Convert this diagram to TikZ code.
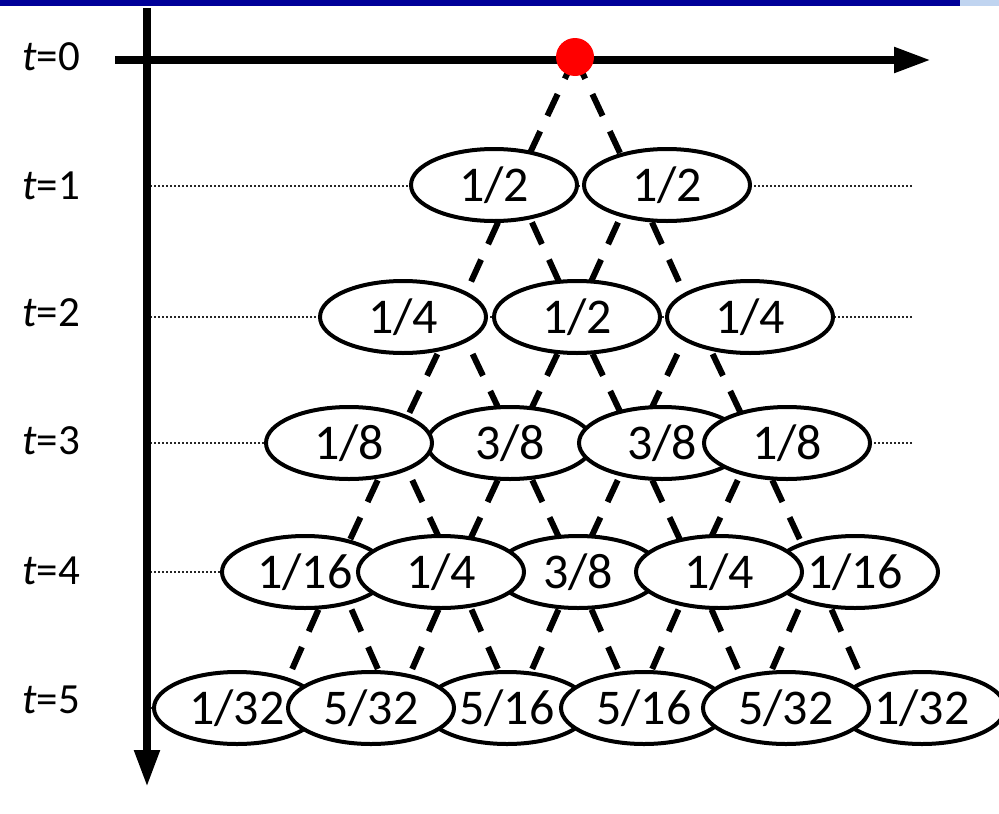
\documentclass[tikz,border=0pt]{standalone}
\usepackage{fontspec}
\setmainfont{Carlito}
\usetikzlibrary{arrows.meta,shapes.geometric}
\definecolor{barblue}{RGB}{0,0,153}
\definecolor{barlight}{RGB}{192,212,240}
\begin{document}
\begin{tikzpicture}[x=1pt,y=-1pt,
  prob/.style={ellipse, draw=black, fill=white, line width=4pt,
    minimum width=166pt, minimum height=72pt, inner sep=0pt,
    font=\fontsize{50}{60}\selectfont, text height=32pt, text depth=0pt},
  tlabel/.style={inner sep=0pt, font=\fontsize{43}{52}\selectfont,
    text height=27pt, text depth=0pt},
  dashline/.style={line width=6pt, dash pattern=on 24pt off 17pt},
  dotline/.style={line width=1.5pt, dash pattern=on 1.5pt off 2.5pt, black!85},
  axisline/.style={line width=8pt, -{Triangle[length=37pt,width=24pt]}},
  reddot/.style={circle, fill=red, minimum size=38pt, inner sep=0pt}
]
\useasboundingbox (0,0) rectangle (999,814);
% top bar
\fill[barblue] (0,0) rectangle (960,6);
\fill[barlight] (960,0) rectangle (999,6);

% dotted level lines
\foreach \n/\y in {1/186,2/317,3/443,4/572,5/708}{
  \coordinate (dl\n) at (150,\y);
  \coordinate (dr\n) at (912,\y);
  \draw[dotline] (dl\n) -- (dr\n);
}

% axes
\coordinate (hx0) at (115,60);
\coordinate (hx1) at (931,60);
\coordinate (vy0) at (147,8);
\coordinate (vy1) at (147,787);
\draw[axisline] (hx0) -- (hx1);
\draw[axisline] (vy0) -- (vy1);

% labels
\node[tlabel] (l0) at (51,57) {\textit{t}=0};
\node[tlabel] (l1) at (51,186) {\textit{t}=1};
\node[tlabel] (l2) at (51,313) {\textit{t}=2};
\node[tlabel] (l3) at (51,441) {\textit{t}=3};
\node[tlabel] (l4) at (51,571) {\textit{t}=4};
\node[tlabel] (l5) at (51,700) {\textit{t}=5};

% lattice points of the tree
\coordinate (p0-0) at (575,57);
\foreach \n/\y in {1/185,2/317,3/443,4/572,5/708}{
  \foreach \k in {0,...,\n}{
    \coordinate (p\n-\k) at ({575+60*(2*\k-\n)},\y);
  }
}
% dashed connectors
\foreach \n in {0,...,4}{
  \pgfmathtruncatemacro\m{\n+1}
  \foreach \k in {0,...,\n}{
    \pgfmathtruncatemacro\kk{\k+1}
    \draw[dashline] (p\n-\k) -- (p\m-\k);
    \draw[dashline] (p\n-\k) -- (p\m-\kk);
  }
}

% row 1
\node[prob] (a1) at (494,185) {1/2};
\node[prob] (a2) at (667,185) {1/2};
% row 2
\node[prob] (b1) at (403,317) {1/4};
\node[prob] (b2) at (577,317) {1/2};
\node[prob] (b3) at (750,317) {1/4};
% row 3
\node[prob] (c2) at (510,443) {3/8};
\node[prob] (c3) at (662,443) {3/8};
\node[prob] (c1) at (349,443) {1/8};
\node[prob] (c4) at (787,443) {1/8};
% row 4
\node[prob] (d1) at (305,572) {1/16};
\node[prob] (d5) at (855,572) {1/16};
\node[prob] (d3) at (578,572) {3/8};
\node[prob] (d2) at (441,572) {1/4};
\node[prob] (d4) at (719,572) {1/4};
% row 5
\node[prob] (e1) at (237,708) {1/32};
\node[prob] (e6) at (922,708) {1/32};
\node[prob] (e3) at (507,708) {5/16};
\node[prob] (e4) at (644,708) {5/16};
\node[prob] (e2) at (371,708) {5/32};
\node[prob] (e5) at (786,708) {5/32};

% start point
\node[reddot] (dot) at (p0-0) {};
\end{tikzpicture}
\end{document}
